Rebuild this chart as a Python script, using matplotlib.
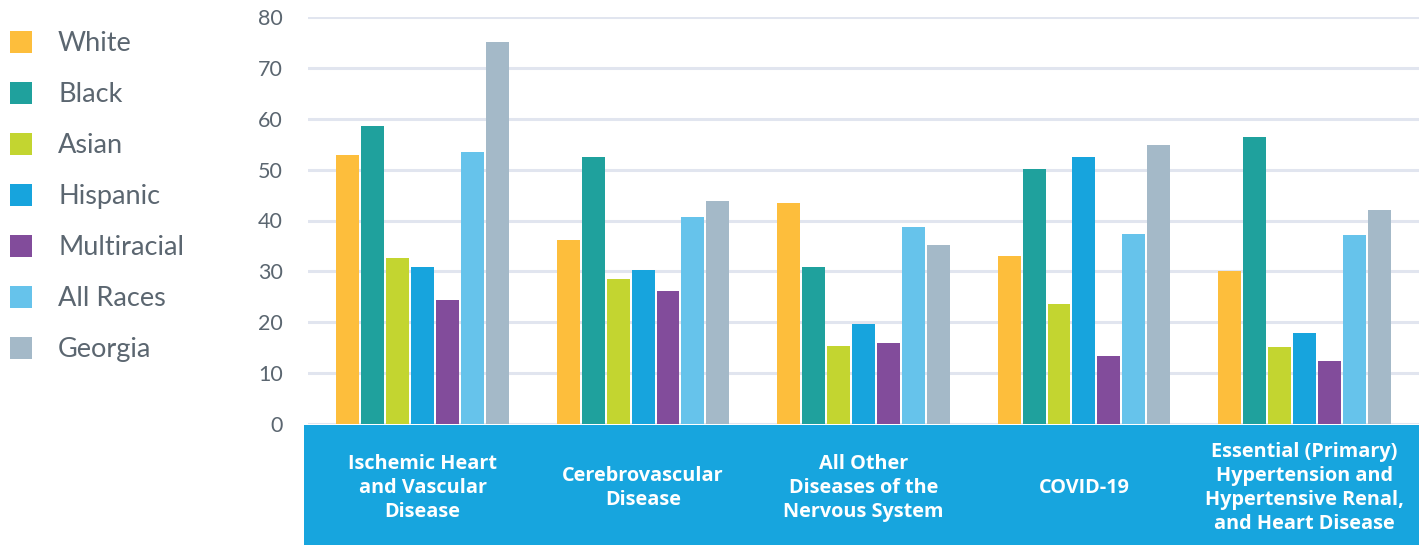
import matplotlib
matplotlib.use("Agg")
import matplotlib.pyplot as plt
from matplotlib.patches import Rectangle
import matplotlib.transforms as mtransforms
import numpy as np

plt.rcParams['font.family'] = ['Lato', 'DejaVu Sans']

categories = ["Ischemic Heart\nand Vascular\nDisease",
              "Cerebrovascular\nDisease",
              "All Other\nDiseases of the\nNervous System",
              "COVID-19",
              "Essential (Primary)\nHypertension and\nHypertensive Renal,\nand Heart Disease"]
series_names = ["White", "Black", "Asian", "Hispanic", "Multiracial", "All Races", "Georgia"]
white = [52.8, 36.1, 43.4, 33.0, 30.0]
black = [58.5, 52.4, 30.8, 50.1, 56.4]
asian = [32.6, 28.5, 15.3, 23.6, 15.1]
hispanic = [30.8, 30.2, 19.6, 52.4, 17.9]
multiracial = [24.4, 26.1, 15.9, 13.4, 12.4]
all_races = [53.4, 40.7, 38.7, 37.3, 37.1]
georgia = [75.0, 43.8, 35.2, 54.8, 42.0]
yticks = [0, 10, 20, 30, 40, 50, 60, 70, 80]

series = [white, black, asian, hispanic, multiracial, all_races, georgia]
colors = ["#FDBE3C", "#1FA19D", "#C3D530", "#17A4DD", "#824C9B", "#66C3EB", "#A4B9C8"]
text_color = "#5B6670"
band_color = "#17A5DE"

W, H = 1419, 545
fig = plt.figure(figsize=(W / 100, H / 100), dpi=100)
ax_left, ax_right = 308 / W, 1.0
ax_bottom, ax_top = 1 - 424 / H, 1 - 17 / H
ax = fig.add_axes([ax_left, ax_bottom, ax_right - ax_left, ax_top - ax_bottom])

x = np.arange(len(categories))
pitch = 0.113
width = 0.104
n = len(series)
for i, (vals, c) in enumerate(zip(series, colors)):
    offs = (i - (n - 1) / 2) * pitch
    ax.bar(x + offs, vals, width=width, color=c, zorder=3, linewidth=0)

ax.set_xlim(-0.52, 4.52)
ax.set_ylim(0, 80)
ax.set_yticks(yticks)
ax.set_yticklabels([str(t) for t in yticks])
ax.tick_params(axis='y', length=0, pad=18, labelsize=15.5, labelcolor=text_color)
ax.tick_params(axis='x', length=0, labelbottom=False)
for s in ax.spines.values():
    s.set_visible(False)
ax.yaxis.grid(True, color="#E1E5EF", linewidth=2.2, zorder=0)
ax.set_axisbelow(True)

# category band
band = Rectangle((304 / W, 0), 1 - 304 / W, (H - 425) / H, transform=fig.transFigure,
                 facecolor=band_color, edgecolor='none', zorder=1)
fig.add_artist(band)
trans = mtransforms.blended_transform_factory(ax.transData, fig.transFigure)
for xi, lab in zip(x, categories):
    fig.text(xi, 1 - 488 / H, lab, transform=trans, ha='center', va='center',
             color='white', fontsize=14.3, fontweight='bold', linespacing=1.27,
             family=['Open Sans', 'DejaVu Sans'], zorder=5)

# legend
for i, (name, c) in enumerate(zip(series_names, colors)):
    yc = 42 + 51 * i
    fig.add_artist(Rectangle((10 / W, 1 - (yc + 11) / H), 22 / W, 22 / H,
                             transform=fig.transFigure, facecolor=c, edgecolor='none'))
    fig.text(58 / W, 1 - (yc + 9) / H, name, ha='left', va='baseline', fontsize=19.5,
             color=text_color)

fig.savefig("out.png", dpi=100)
